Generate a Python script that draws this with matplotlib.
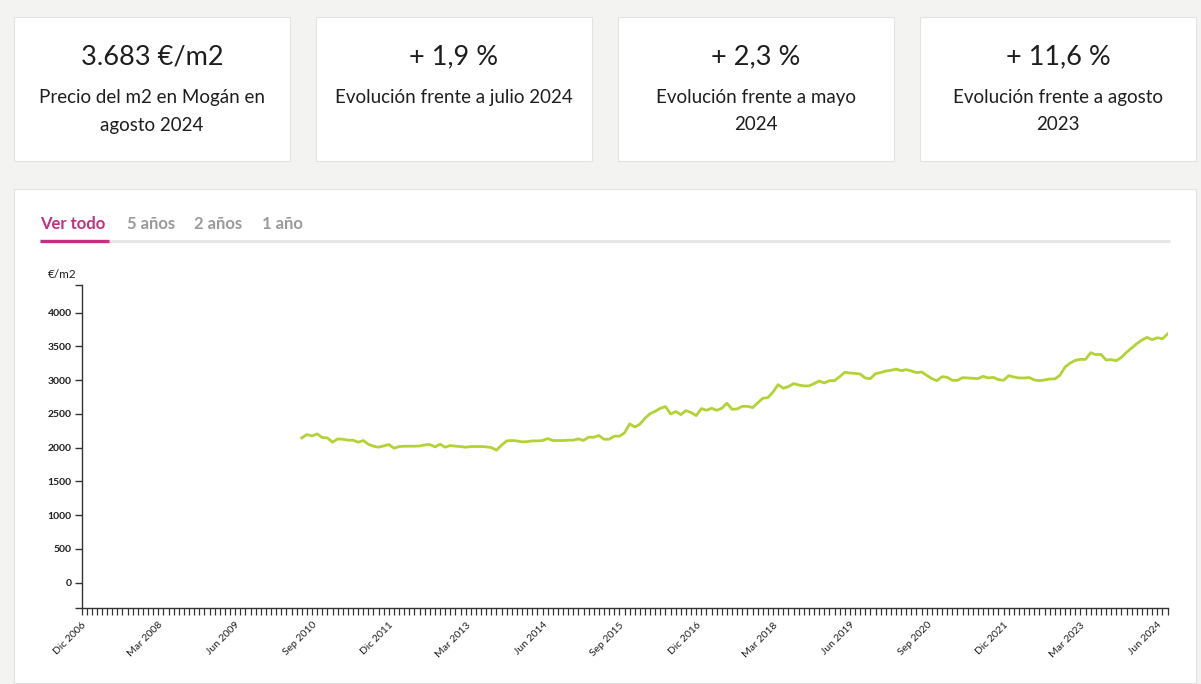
import matplotlib
matplotlib.use("Agg")
import matplotlib.pyplot as plt
import matplotlib.patches as mpatches
import numpy as np

# ── Data ──────────────────────────────────────────────────────────────────────
# month index 0 = Dic 2006; series starts Jul 2010 (index 43), ends Ago 2024
START_IDX = 43
PRICE = [
    2145, 2195, 2174, 2204, 2150, 2145, 2081, 2130, 2125, 2111, 2111, 2081,
    2106, 2051, 2022, 2007, 2027, 2046, 1992, 2017, 2022, 2022, 2022, 2025,
    2041, 2046, 2012, 2051, 2007, 2032, 2022, 2017, 2007, 2017, 2017, 2017,
    2012, 2002, 1963, 2037, 2100, 2106, 2100, 2086, 2090, 2100, 2100, 2106,
    2135, 2106, 2106, 2106, 2111, 2111, 2130, 2108, 2155,
    2155, 2180, 2125, 2125, 2170, 2170, 2219, 2352, 2307, 2347, 2436, 2505,
    2539, 2584, 2609, 2500, 2535, 2490, 2550, 2520, 2475, 2579, 2554, 2584,
    2554, 2584, 2658, 2569, 2574, 2613, 2613, 2594, 2662, 2732, 2742, 2825,
    2934, 2880, 2905, 2949, 2929, 2915, 2915, 2949, 2988, 2959, 2993, 2993,
    3052, 3116, 3106, 3101, 3091, 3032, 3023, 3097,
    3112, 3136, 3146, 3165, 3141, 3156, 3136, 3112, 3121, 3072, 3023, 2993,
    3052, 3042, 2998, 2998, 3038, 3033, 3028, 3023, 3057, 3033, 3042, 3008,
    2998, 3067, 3047, 3033, 3033, 3038, 3003, 2993, 3003, 3018, 3018, 3072,
    3195, 3254, 3294, 3308, 3308, 3407, 3378, 3383, 3300, 3304, 3289, 3338,
    3412, 3476, 3541, 3594, 3634, 3600, 3629, 3614, 3683,
]
N_MONTHS = 212  # Dic 2006 .. Ago 2024
TICK_LABELS = ["Dic 2006", "Mar 2008", "Jun 2009", "Sep 2010", "Dic 2011",
               "Mar 2013", "Jun 2014", "Sep 2015", "Dic 2016", "Mar 2018",
               "Jun 2019", "Sep 2020", "Dic 2021", "Mar 2023", "Jun 2024"]
Y_TICKS = [0, 500, 1000, 1500, 2000, 2500, 3000, 3500, 4000]
Y_MIN, Y_MAX = -375, 4410

CARD_VALUES = ["3.683 €/m2", "+ 1,9 %", "+ 2,3 %", "+ 11,6 %"]
CARD_TEXTS = [["Precio del m2 en Mogán en", "agosto 2024"],
              ["Evolución frente a julio 2024"],
              ["Evolución frente a mayo", "2024"],
              ["Evolución frente a agosto", "2023"]]
TABS = ["Ver todo", "5 años", "2 años", "1 año"]

# ── Style ─────────────────────────────────────────────────────────────────────
BG = "#f3f3f1"
LINE = "#b2d235"
MAGENTA = "#c2307f"
TAB_GREY = "#9a9a9a"
TEXT = "#1e1e1e"
FONT = ["Lato", "DejaVu Sans"]
plt.rcParams["font.family"] = FONT

W, H = 1201, 684
fig = plt.figure(figsize=(W / 100, H / 100), dpi=100, facecolor=BG)

# background layer in pixel coordinates
bg = fig.add_axes([0, 0, 1, 1], zorder=0)
bg.set_xlim(0, W)
bg.set_ylim(H, 0)
bg.axis("off")

card_x = [14, 316, 618, 920]
card_w = 276
for cx, val, lines in zip(card_x, CARD_VALUES, CARD_TEXTS):
    bg.add_patch(mpatches.Rectangle((cx, 17), card_w, 144, facecolor="white",
                                    edgecolor="#e2e2e2", linewidth=0.8))
    mid = cx + card_w / 2
    bg.text(mid, 57, val, ha="center", va="center", fontsize=19.5, color=TEXT)
    for i, ln in enumerate(lines):
        bg.text(mid, 98 + i * 27, ln, ha="center", va="center",
                fontsize=13.5, color=TEXT)

# chart panel
bg.add_patch(mpatches.Rectangle((14, 189), 1182, 494, facecolor="white",
                                edgecolor="#e2e2e2", linewidth=0.8))

# tabs
tab_x = [40, 127, 194, 262]
for i, (tx, lab) in enumerate(zip(tab_x, TABS)):
    bg.text(tx, 224, lab, ha="left", va="center", fontsize=12,
            fontweight="bold", color=MAGENTA if i == 0 else TAB_GREY)
bg.plot([40, 1170], [241, 241], color="#e6e6e6", linewidth=2.2,
        solid_capstyle="butt")
bg.plot([40, 109], [241, 241], color=MAGENTA, linewidth=2.4,
        solid_capstyle="butt")
bg.text(62, 274, "€/m2", ha="center", va="center", fontsize=8.5, color=TEXT)

# ── Line chart ────────────────────────────────────────────────────────────────
left, right = 81.5 / W, 1167.5 / W
bottom, top = 1 - 608 / H, 1 - 285 / H
ax = fig.add_axes([left, bottom, right - left, top - bottom], zorder=1)
ax.patch.set_alpha(0)

x = START_IDX + np.arange(len(PRICE))
ax.plot(x, PRICE, color=LINE, linewidth=2.0, solid_joinstyle="round")

ax.set_xlim(0, N_MONTHS)
ax.set_ylim(Y_MIN, Y_MAX)
ax.spines[["top", "right"]].set_visible(False)
for s in ("left", "bottom"):
    ax.spines[s].set_color("#333333")
    ax.spines[s].set_linewidth(1.0)

ax.set_yticks([Y_MAX] + Y_TICKS + [Y_MIN])
ax.set_yticklabels([""] + [str(v) for v in Y_TICKS] + [""])
ax.tick_params(axis="y", length=5, width=1.0, color="#333333", pad=2,
               labelsize=7.5, labelcolor=TEXT)
for lab in ax.get_yticklabels():
    lab.set_fontweight("bold")

ax.set_xticks(np.arange(0, N_MONTHS + 1))
major = np.arange(0, N_MONTHS + 1, 15)
labels = [""] * (N_MONTHS + 1)
for pos, lab in zip(major, TICK_LABELS):
    labels[pos] = lab
ax.set_xticklabels(labels, rotation=45, ha="right", rotation_mode="anchor")
ax.tick_params(axis="x", length=5, width=0.9, color="#333333", pad=4,
               labelsize=7.5, labelcolor=TEXT)

fig.savefig("out.png", dpi=100, facecolor=BG)
